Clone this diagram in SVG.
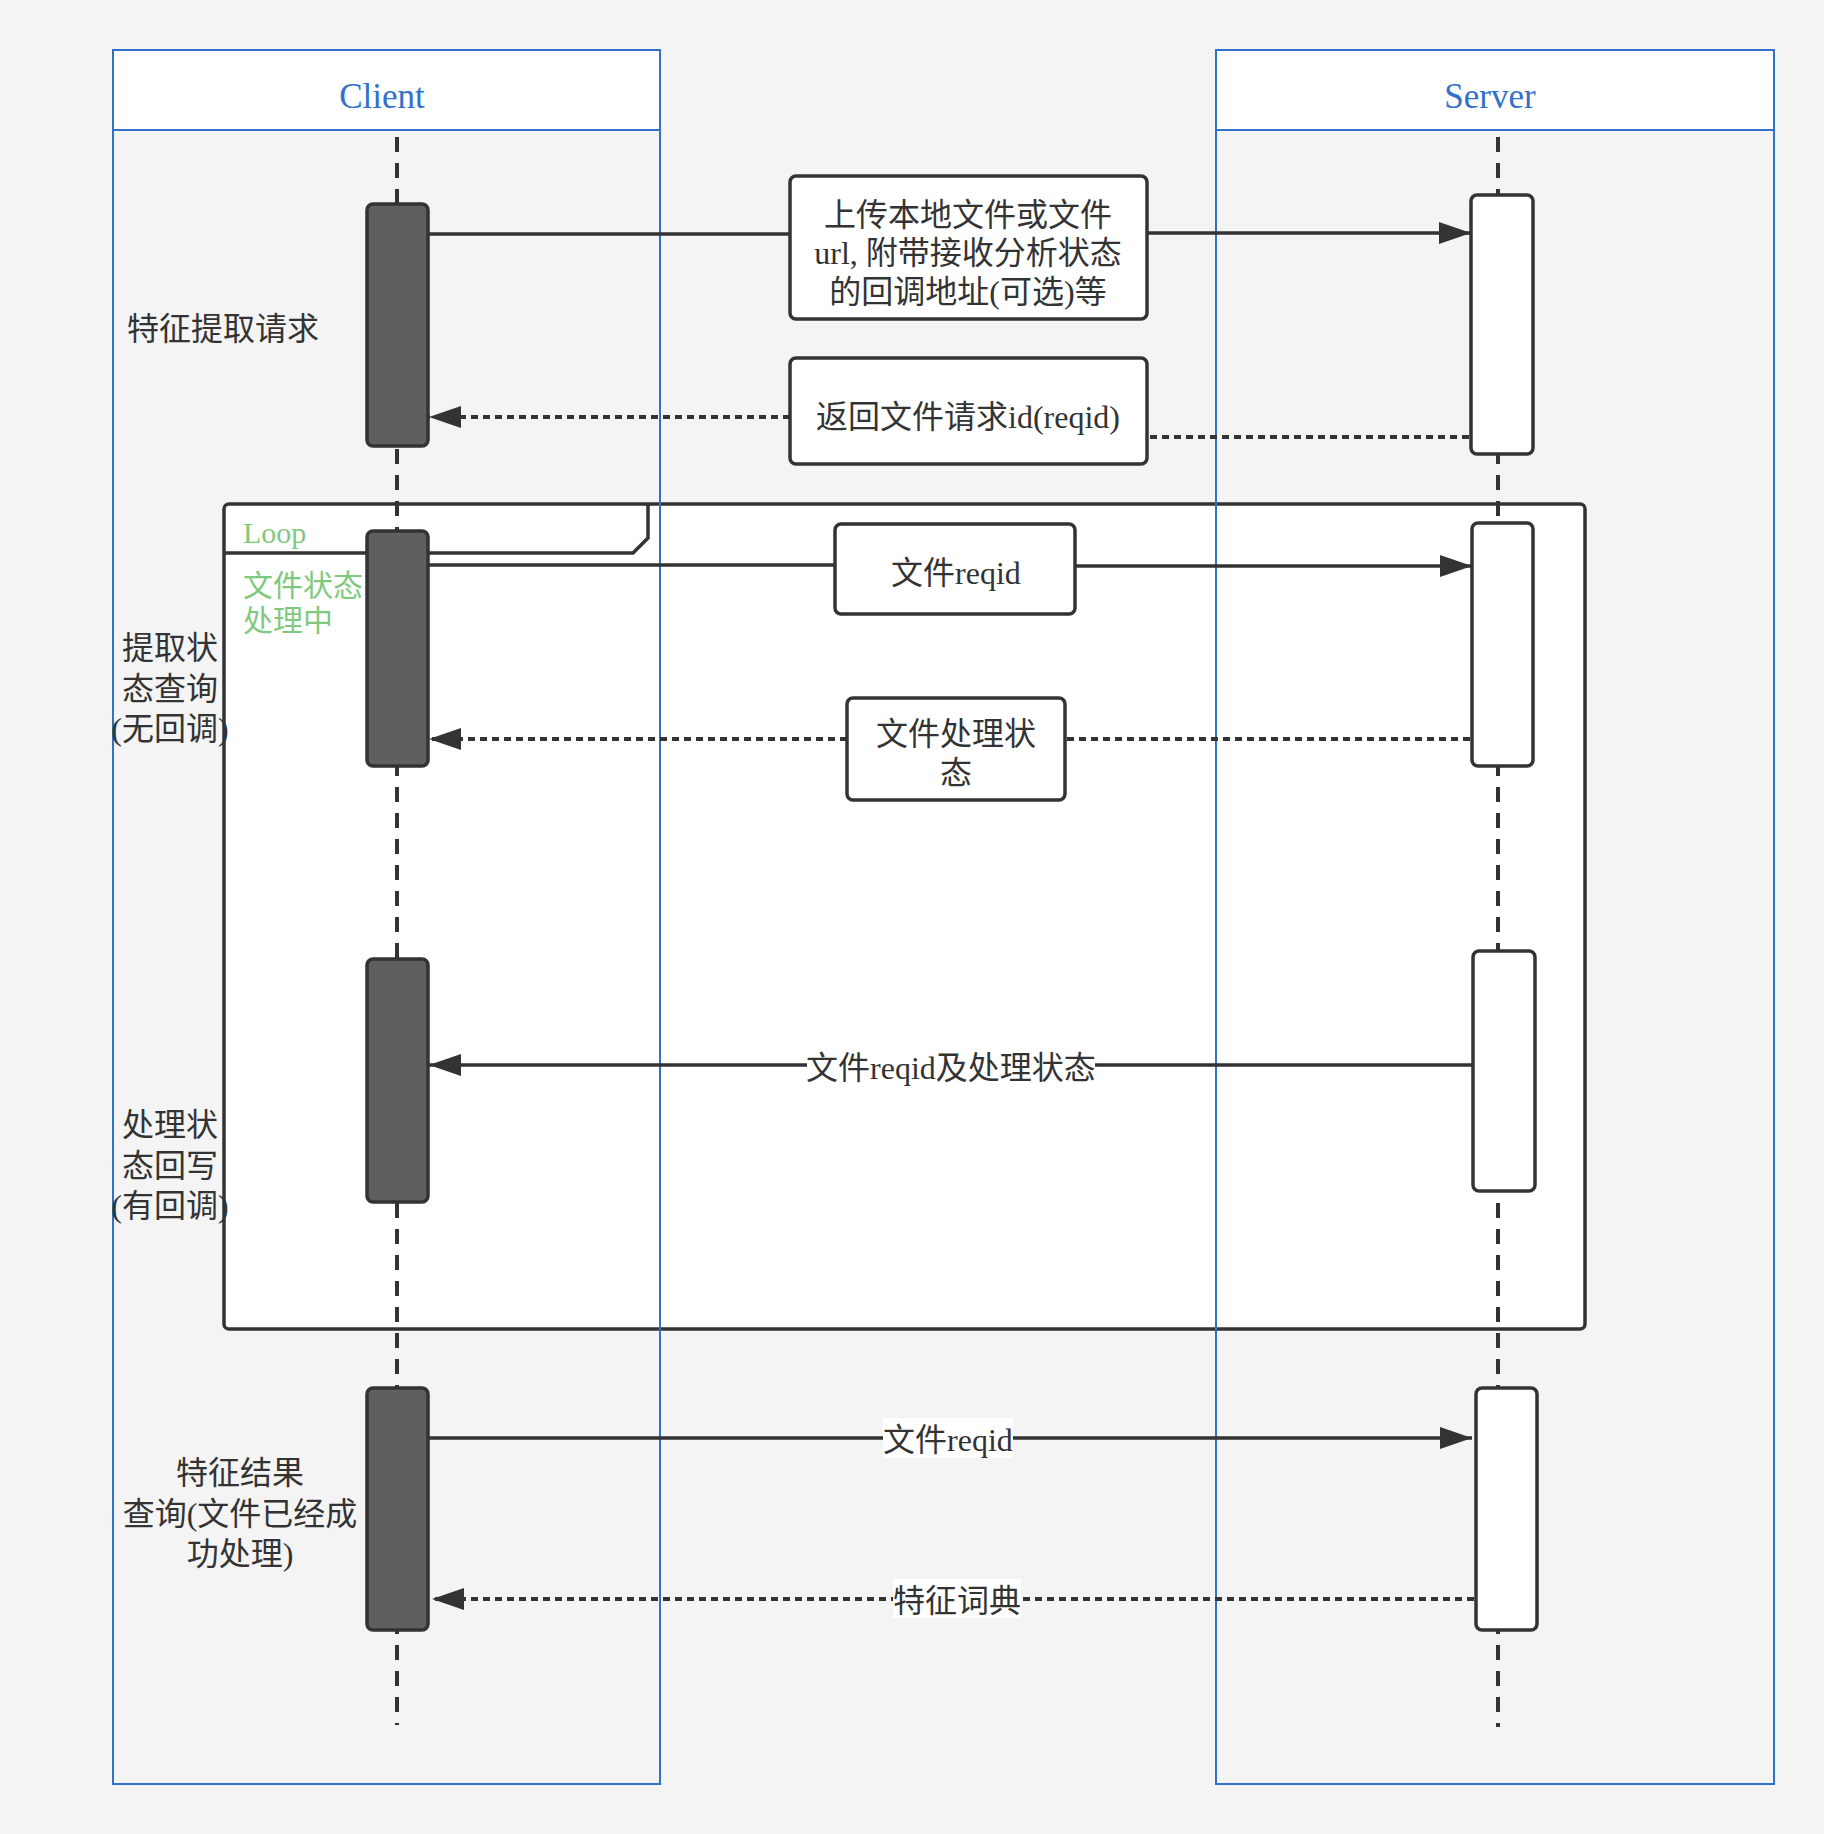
<svg xmlns="http://www.w3.org/2000/svg" width="1824" height="1834" viewBox="0 0 1824 1834">
<style>
.lane{fill:none;stroke:#3171c9;stroke-width:2}
.head{fill:#fff;stroke:#3171c9;stroke-width:2}
.lt{font-family:"Liberation Serif","Noto Sans CJK SC",serif;font-size:35px;fill:#3171c9;text-anchor:middle}
.life{stroke:#333;stroke-width:4;stroke-dasharray:15 11;fill:none}
.actc{fill:#5f5f5f;stroke:#333;stroke-width:3.5}
.acts{fill:#fff;stroke:#333;stroke-width:3.5}
.msg{stroke:#333;stroke-width:3.5;fill:none}
.dot{stroke:#333;stroke-width:4;fill:none;stroke-dasharray:7 5}
.box{fill:#fff;stroke:#333;stroke-width:3.5}
.t{font-family:"Liberation Serif","Noto Sans CJK SC",serif;font-size:32px;fill:#333;text-anchor:middle}
.g{font-family:"Liberation Serif","Noto Sans CJK SC",serif;font-size:30px;fill:#7fc97f}
.lbl{fill:#fff}
</style>
<defs>
<marker id="ah" markerUnits="userSpaceOnUse" viewBox="0 0 32 22" refX="32" refY="11" markerWidth="32" markerHeight="22" orient="auto">
<path d="M0,0 L32,11 L0,22 z" fill="#333"/>
</marker>
</defs>
<rect width="1824" height="1834" fill="#f4f4f4"/>

<g id="loop">
<rect x="224" y="504" width="1361" height="825" rx="5" fill="#fff" stroke="#333" stroke-width="3.5"/>
<path d="M224,553 L633,553 L648,538 L648,504" fill="none" stroke="#333" stroke-width="3.5"/>
<text class="g" x="243" y="543">Loop</text>
<text class="g" x="243" y="596">文件状态</text>
<text class="g" x="243" y="631">处理中</text>
</g>

<g id="client-lane">
<rect class="lane" x="113" y="50" width="547" height="1734"/>
<rect class="head" x="113" y="50" width="547" height="80"/>
<text class="lt" x="382" y="108">Client</text>
</g>
<g id="server-lane">
<rect class="lane" x="1216" y="50" width="558" height="1734"/>
<rect class="head" x="1216" y="50" width="558" height="80"/>
<text class="lt" x="1490" y="108">Server</text>
</g>

<g id="lifelines">
<line class="life" x1="397" y1="137" x2="397" y2="1725"/>
<line class="life" x1="1498" y1="137" x2="1498" y2="1727"/>
</g>

<g id="client-activations">
<rect class="actc" x="367" y="204" width="61" height="242" rx="6"/>
<rect class="actc" x="367" y="531" width="61" height="235" rx="6"/>
<rect class="actc" x="367" y="959" width="61" height="243" rx="6"/>
<rect class="actc" x="367" y="1388" width="61" height="242" rx="6"/>
</g>
<g id="server-activations">
<rect class="acts" x="1471" y="195" width="62" height="259" rx="6"/>
<rect class="acts" x="1472" y="523" width="61" height="243" rx="6"/>
<rect class="acts" x="1473" y="951" width="62" height="240" rx="6"/>
<rect class="acts" x="1476" y="1388" width="61" height="242" rx="6"/>
</g>

<g id="connectors">
<line class="msg" x1="428" y1="234" x2="790" y2="234"/>
<line class="msg" x1="1147" y1="233" x2="1471" y2="233" marker-end="url(#ah)"/>
<line class="dot" x1="1469" y1="437" x2="1147" y2="437"/>
<line class="dot" x1="790" y1="417" x2="429" y2="417" marker-end="url(#ah)"/>
<line class="msg" x1="428" y1="565" x2="835" y2="565"/>
<line class="msg" x1="1075" y1="566" x2="1472" y2="566" marker-end="url(#ah)"/>
<line class="dot" x1="1470" y1="739" x2="1065" y2="739"/>
<line class="dot" x1="847" y1="739" x2="429" y2="739" marker-end="url(#ah)"/>
<line class="msg" x1="1473" y1="1065" x2="429" y2="1065" marker-end="url(#ah)"/>
<line class="msg" x1="428" y1="1438" x2="1472" y2="1438" marker-end="url(#ah)"/>
<line class="dot" x1="1474" y1="1599" x2="432" y2="1599" marker-end="url(#ah)"/>
</g>

<g id="msg1">
<rect class="box" x="790" y="176" width="357" height="143" rx="6"/>
<text class="t" x="968" y="226">上传本地文件或文件</text>
<text class="t" x="968" y="264">url, 附带接收分析状态</text>
<text class="t" x="968" y="303">的回调地址(可选)等</text>
</g>
<g id="msg2">
<rect class="box" x="790" y="358" width="357" height="106" rx="6"/>
<text class="t" x="968" y="428">返回文件请求id(reqid)</text>
</g>
<g id="msg3">
<rect class="box" x="835" y="524" width="240" height="90" rx="6"/>
<text class="t" x="956" y="584">文件reqid</text>
</g>
<g id="msg4">
<rect class="box" x="847" y="698" width="218" height="102" rx="6"/>
<text class="t" x="956" y="745">文件处理状</text>
<text class="t" x="956" y="784">态</text>
</g>
<g id="msg5">
<rect class="lbl" x="807" y="1048" width="288" height="40"/>
<text class="t" x="951" y="1079">文件reqid及处理状态</text>
</g>
<g id="msg6">
<rect class="lbl" x="883" y="1418" width="130" height="40"/>
<text class="t" x="948" y="1451">文件reqid</text>
</g>
<g id="msg7">
<rect class="lbl" x="893" y="1579" width="128" height="39"/>
<text class="t" x="957" y="1612">特征词典</text>
</g>

<g id="label1"><text class="t" x="223" y="340">特征提取请求</text></g>
<g id="label2">
<text class="t" x="170" y="659">提取状</text>
<text class="t" x="170" y="700">态查询</text>
<text class="t" x="170" y="740">(无回调)</text>
</g>
<g id="label3">
<text class="t" x="170" y="1136">处理状</text>
<text class="t" x="170" y="1177">态回写</text>
<text class="t" x="170" y="1217">(有回调)</text>
</g>
<g id="label4">
<text class="t" x="240" y="1484">特征结果</text>
<text class="t" x="240" y="1525">查询(文件已经成</text>
<text class="t" x="240" y="1565">功处理)</text>
</g>
</svg>
